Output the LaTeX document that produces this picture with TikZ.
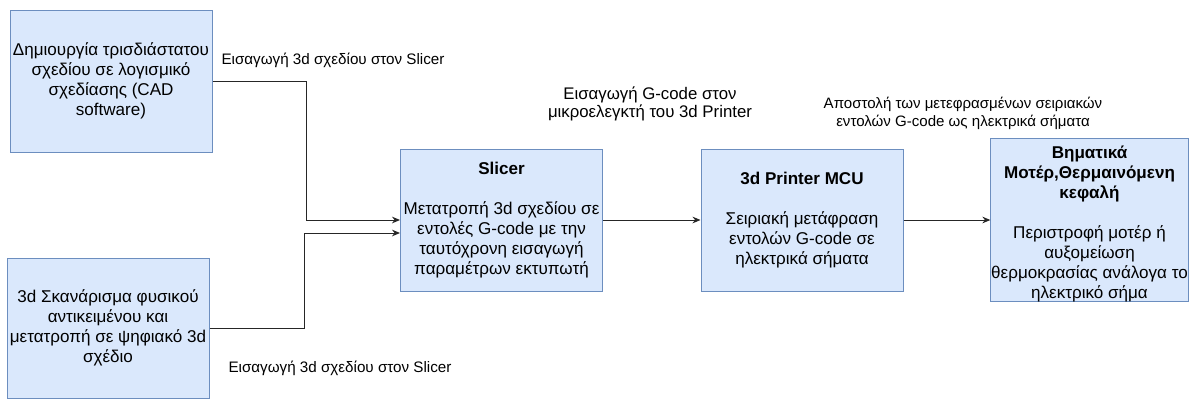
\documentclass[tikz,border=0pt]{standalone}
\usepackage{fontspec}
\setmainfont{Liberation Sans}
\usetikzlibrary{arrows.meta,positioning,calc}
\definecolor{boxfill}{HTML}{DAE8FC}
\definecolor{boxline}{HTML}{6C8EBF}

\begin{document}
\begin{tikzpicture}[x=0.75pt, y=-0.75pt,
    box/.style={draw=boxline, fill=boxfill, line width=0.75pt, minimum width=151.5pt, minimum height=106.5pt, inner sep=0pt, align=center, font=\fontsize{12.8}{15}\selectfont, text=black},
    lbl/.style={align=center, inner sep=0pt, font=\fontsize{11.4}{13.5}\selectfont, text=black},
    arr/.style={-{Stealth[length=6pt, width=5pt]}, line width=0.75pt, black!85},
]
\useasboundingbox (0,0) rectangle (1189,401);
% Sources of the 3d design
\node[box] (cad) at (111,81) {Δημιουργία τρισδιάστατου\\σχεδίου σε λογισμικό\\σχεδίασης (CAD\\software)};
\node[box, minimum height=105pt] (scan) at (108,328) {3d Σκανάρισμα φυσικού\\αντικειμένου και\\μετατροπή σε ψηφιακό 3d\\σχέδιο};

% Processing chain
\node[box] (slicer) at (501.5,220) {\textbf{Slicer}\\[15pt]Μετατροπή 3d σχεδίου σε\\εντολές G-code με την\\ταυτόχρονη εισαγωγή\\παραμέτρων εκτυπωτή};
\node[box] (mcu) at (802,220) {\textbf{3d Printer MCU}\\[15pt]Σειριακή μετάφραση\\εντολών G-code σε\\ηλεκτρικά σήματα};
\node[box, minimum width=148pt, minimum height=117pt] (motor) at (1089.5,220) {\rule{0pt}{15pt}\textbf{Βηματικά}\\\textbf{Μοτέρ,Θερμαινόμενη}\\\textbf{κεφαλή}\\[15pt]Περιστροφή μοτέρ ή\\αυξομείωση\\θερμοκρασίας ανάλογα το\\ηλεκτρικό σήμα};

\draw[arr] (cad.east) -- ++(94,0) |- (slicer.west);
\draw[arr] (scan.east) -- ++(95,0) |- ($(slicer.west)+(0,13)$);
\draw[arr] (slicer) -- (mcu);
\draw[arr] (mcu) -- (motor);

\node[lbl] (cadin) at (333,60) {Εισαγωγή 3d σχεδίου στον Slicer};
\node[lbl] (scanin) at (340,368) {Εισαγωγή 3d σχεδίου στον Slicer};
\node[lbl, font=\fontsize{12.6}{13.5}\selectfont] (gcodein) at (650,104) {Εισαγωγή G-code στον\\μικροελεγκτή του 3d Printer};
\node[lbl, font=\fontsize{11.3}{13.5}\selectfont] (signals) at (963,113) {Αποστολή των μετεφρασμένων σειριακών\\εντολών G-code ως ηλεκτρικά σήματα};
\end{tikzpicture}
\end{document}
